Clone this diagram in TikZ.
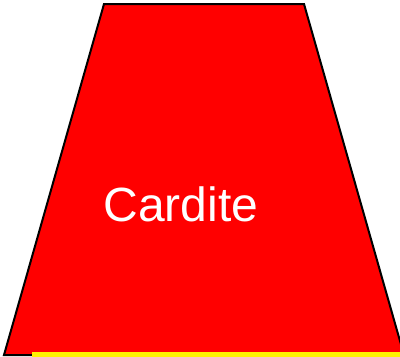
\documentclass[tikz,border=0pt]{standalone}
\usepackage{fontspec}
\setmainfont{Liberation Sans}
\usetikzlibrary{calc}

\begin{document}
\begin{tikzpicture}[x=1pt,y=-1pt]
  \useasboundingbox (0,0) rectangle (400,357);
  % red trapezoid (bottom edge runs past the frame)
  \draw[black,line width=2pt,fill=red] (104,4) -- (304,4) -- (404,355) -- (4,355) -- cycle;
  % yellow strip under it
  \fill[yellow] (32,352) rectangle (410,362);
  % label
  \node[white,font=\fontsize{48}{48}\selectfont,anchor=base] (lbl) at (181,221) {Cardite};
\end{tikzpicture}
\end{document}
